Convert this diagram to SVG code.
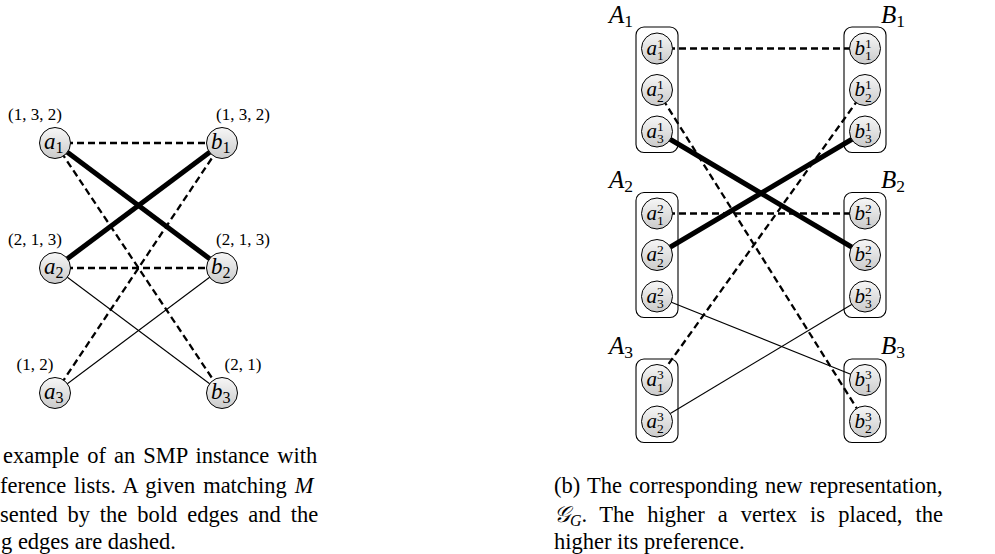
<svg xmlns="http://www.w3.org/2000/svg" width="995" height="554" viewBox="0 0 995 554">
<defs>
<linearGradient id="sh" x1="0" y1="0" x2="0" y2="1">
<stop offset="0" stop-color="#f7f7f7"/>
<stop offset="1" stop-color="#cbcbcb"/>
</linearGradient>
</defs>
<style>
circle{fill:url(#sh);stroke:#000;stroke-width:1}
.box{fill:none;stroke:#000;stroke-width:1.1}
.thin{stroke:#000;stroke-width:1.1;fill:none}
.dash{stroke:#000;stroke-width:2.3;stroke-dasharray:7 4;fill:none}
.bold{stroke:#000;stroke-width:5;fill:none}
text{font-family:"Liberation Serif","Times New Roman",serif;fill:#000}
.m{font-style:italic}
.i{font-style:normal}
.nl{font-size:23px}
.nr{font-size:21px}
.ix{font-size:13.5px;font-style:normal}
.pl{font-size:17px}
.gl{font-size:25px}
.cap{font-size:22.5px}
</style>

<g id="groupA1"><rect class="box" x="636" y="27" width="42" height="125.5" rx="8"/><text class="m gl" x="609" y="23">A<tspan class="i" font-size="17.5" dy="3.5">1</tspan></text></g>
<g id="groupB1"><rect class="box" x="844" y="27" width="42" height="125.5" rx="8"/><text class="m gl" x="881" y="23">B<tspan class="i" font-size="17.5" dy="3.5">1</tspan></text></g>
<g id="groupA2"><rect class="box" x="636" y="192.5" width="42" height="125" rx="8"/><text class="m gl" x="609" y="188">A<tspan class="i" font-size="17.5" dy="3.5">2</tspan></text></g>
<g id="groupB2"><rect class="box" x="844" y="192.5" width="42" height="125" rx="8"/><text class="m gl" x="881" y="188">B<tspan class="i" font-size="17.5" dy="3.5">2</tspan></text></g>
<g id="groupA3"><rect class="box" x="636" y="359" width="42" height="83.5" rx="8"/><text class="m gl" x="609" y="354">A<tspan class="i" font-size="17.5" dy="3.5">3</tspan></text></g>
<g id="groupB3"><rect class="box" x="844" y="359" width="42" height="83.5" rx="8"/><text class="m gl" x="881" y="354">B<tspan class="i" font-size="17.5" dy="3.5">3</tspan></text></g>

<g id="connectors">
<line class="dash" x1="55" y1="143" x2="222" y2="143"/>
<line class="bold" x1="55" y1="143" x2="222" y2="268"/>
<line class="bold" x1="55" y1="268" x2="222" y2="143"/>
<line class="dash" x1="55" y1="143" x2="222" y2="393"/>
<line class="dash" x1="55" y1="268" x2="222" y2="268"/>
<line class="dash" x1="55" y1="393" x2="222" y2="143"/>
<line class="thin" x1="55" y1="268" x2="222" y2="393"/>
<line class="thin" x1="55" y1="393" x2="222" y2="268"/>

<line class="dash" x1="657" y1="48.5" x2="865" y2="48.5"/>
<line class="dash" x1="657" y1="90" x2="865" y2="421.5"/>
<line class="bold" x1="657" y1="131.5" x2="865" y2="255"/>
<line class="dash" x1="865" y1="90" x2="657" y2="380"/>
<line class="bold" x1="865" y1="131.5" x2="657" y2="255"/>
<line class="dash" x1="657" y1="213.5" x2="865" y2="213.5"/>
<line class="thin" x1="657" y1="296.5" x2="865" y2="380"/>
<line class="thin" x1="865" y1="296.5" x2="657" y2="421.5"/>
</g>

<g id="a1"><circle cx="55" cy="143" r="15.5"/><text class="m nl" x="44" y="149">a<tspan class="i" font-size="16" dy="4">1</tspan></text><text class="pl" x="35" y="120" text-anchor="middle">(1, 3, 2)</text></g>
<g id="b1"><circle cx="222" cy="143" r="15.5"/><text class="m nl" x="211" y="149">b<tspan class="i" font-size="16" dy="4">1</tspan></text><text class="pl" x="243" y="120" text-anchor="middle">(1, 3, 2)</text></g>
<g id="a2"><circle cx="55" cy="268" r="15.5"/><text class="m nl" x="44" y="274">a<tspan class="i" font-size="16" dy="4">2</tspan></text><text class="pl" x="35" y="245" text-anchor="middle">(2, 1, 3)</text></g>
<g id="b2"><circle cx="222" cy="268" r="15.5"/><text class="m nl" x="211" y="274">b<tspan class="i" font-size="16" dy="4">2</tspan></text><text class="pl" x="243" y="245" text-anchor="middle">(2, 1, 3)</text></g>
<g id="a3"><circle cx="55" cy="393" r="15.5"/><text class="m nl" x="44" y="399">a<tspan class="i" font-size="16" dy="4">3</tspan></text><text class="pl" x="35" y="370" text-anchor="middle">(1, 2)</text></g>
<g id="b3"><circle cx="222" cy="393" r="15.5"/><text class="m nl" x="211" y="399">b<tspan class="i" font-size="16" dy="4">3</tspan></text><text class="pl" x="243" y="370" text-anchor="middle">(2, 1)</text></g>

<g id="a11"><circle cx="657" cy="48.5" r="15.5"/><text class="m nr"><tspan x="646.5" y="54.5">a</tspan><tspan class="ix" x="657" y="47.5">1</tspan><tspan class="ix" x="657" y="60">1</tspan></text></g>
<g id="a12"><circle cx="657" cy="90" r="15.5"/><text class="m nr"><tspan x="646.5" y="96">a</tspan><tspan class="ix" x="657" y="89">1</tspan><tspan class="ix" x="657" y="101.5">2</tspan></text></g>
<g id="a13"><circle cx="657" cy="131.5" r="15.5"/><text class="m nr"><tspan x="646.5" y="137.5">a</tspan><tspan class="ix" x="657" y="130.5">1</tspan><tspan class="ix" x="657" y="143">3</tspan></text></g>
<g id="a21"><circle cx="657" cy="213.5" r="15.5"/><text class="m nr"><tspan x="646.5" y="219.5">a</tspan><tspan class="ix" x="657" y="212.5">2</tspan><tspan class="ix" x="657" y="225">1</tspan></text></g>
<g id="a22"><circle cx="657" cy="255" r="15.5"/><text class="m nr"><tspan x="646.5" y="261">a</tspan><tspan class="ix" x="657" y="254">2</tspan><tspan class="ix" x="657" y="266.5">2</tspan></text></g>
<g id="a23"><circle cx="657" cy="296.5" r="15.5"/><text class="m nr"><tspan x="646.5" y="302.5">a</tspan><tspan class="ix" x="657" y="295.5">2</tspan><tspan class="ix" x="657" y="308">3</tspan></text></g>
<g id="a31"><circle cx="657" cy="380" r="15.5"/><text class="m nr"><tspan x="646.5" y="386">a</tspan><tspan class="ix" x="657" y="379">3</tspan><tspan class="ix" x="657" y="391.5">1</tspan></text></g>
<g id="a32"><circle cx="657" cy="421.5" r="15.5"/><text class="m nr"><tspan x="646.5" y="427.5">a</tspan><tspan class="ix" x="657" y="420.5">3</tspan><tspan class="ix" x="657" y="433">2</tspan></text></g>

<g id="b11"><circle cx="865" cy="48.5" r="15.5"/><text class="m nr"><tspan x="854.5" y="54.5">b</tspan><tspan class="ix" x="865" y="47.5">1</tspan><tspan class="ix" x="865" y="60">1</tspan></text></g>
<g id="b12"><circle cx="865" cy="90" r="15.5"/><text class="m nr"><tspan x="854.5" y="96">b</tspan><tspan class="ix" x="865" y="89">1</tspan><tspan class="ix" x="865" y="101.5">2</tspan></text></g>
<g id="b13"><circle cx="865" cy="131.5" r="15.5"/><text class="m nr"><tspan x="854.5" y="137.5">b</tspan><tspan class="ix" x="865" y="130.5">1</tspan><tspan class="ix" x="865" y="143">3</tspan></text></g>
<g id="b21"><circle cx="865" cy="213.5" r="15.5"/><text class="m nr"><tspan x="854.5" y="219.5">b</tspan><tspan class="ix" x="865" y="212.5">2</tspan><tspan class="ix" x="865" y="225">1</tspan></text></g>
<g id="b22"><circle cx="865" cy="255" r="15.5"/><text class="m nr"><tspan x="854.5" y="261">b</tspan><tspan class="ix" x="865" y="254">2</tspan><tspan class="ix" x="865" y="266.5">2</tspan></text></g>
<g id="b23"><circle cx="865" cy="296.5" r="15.5"/><text class="m nr"><tspan x="854.5" y="302.5">b</tspan><tspan class="ix" x="865" y="295.5">2</tspan><tspan class="ix" x="865" y="308">3</tspan></text></g>
<g id="b31"><circle cx="865" cy="380" r="15.5"/><text class="m nr"><tspan x="854.5" y="386">b</tspan><tspan class="ix" x="865" y="379">3</tspan><tspan class="ix" x="865" y="391.5">1</tspan></text></g>
<g id="b32"><circle cx="865" cy="421.5" r="15.5"/><text class="m nr"><tspan x="854.5" y="427.5">b</tspan><tspan class="ix" x="865" y="420.5">3</tspan><tspan class="ix" x="865" y="433">2</tspan></text></g>

<g id="captionA">
<text class="cap" x="3" y="463" word-spacing="2.4">example of an SMP instance with</text>
<text class="cap" x="0" y="493" word-spacing="2.2">ference lists. A given matching <tspan class="m">M</tspan></text>
<text class="cap" x="0" y="522" word-spacing="4.3">sented by the bold edges and the</text>
<text class="cap" x="1" y="549">g edges are dashed.</text>
</g>
<g id="captionB">
<text class="cap" x="554" y="493" word-spacing="1.5">(b) The corresponding new representation,</text>
<text class="cap" x="554" y="522"><tspan class="m">𝒢</tspan><tspan class="m" font-size="16" dy="4">G</tspan><tspan dy="-4">.</tspan></text>
<text class="cap" x="943" y="522" text-anchor="end" word-spacing="7.4">The higher a vertex is placed, the</text>
<text class="cap" x="554" y="549">higher its preference.</text>
</g>
</svg>
